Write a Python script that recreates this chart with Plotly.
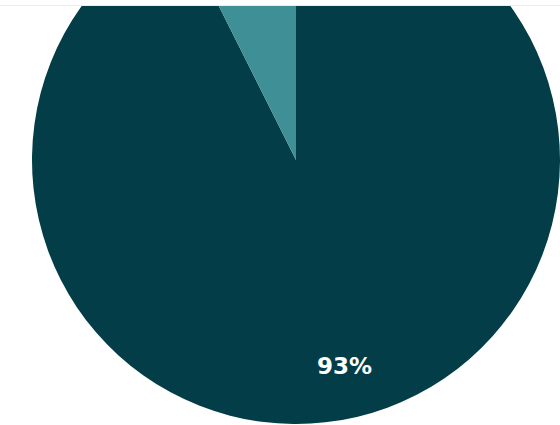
import math
import plotly.graph_objects as go

# ---- data ----
labels = ["Main", "Other"]
values = [92.6, 7.4]
colors = ["#033d47", "#3f8f96"]

W, H = 560, 528          # figure size (larger than the window; page is offset)
OFFSET_Y = 104           # px the figure is shifted up so the pie is cropped like the reference
DOM_X0 = 32 / W          # pie domain left edge
LABEL_R = 0.80           # label distance as a fraction of the radius

fig = go.Figure(
    go.Pie(
        labels=labels,
        values=values,
        sort=False,
        direction="clockwise",
        rotation=0,
        marker=dict(colors=colors, line=dict(width=0)),
        textinfo="none",
        hoverinfo="skip",
        domain=dict(x=[DOM_X0, 1], y=[0, 1]),
        showlegend=False,
    )
)

# label for the main slice, placed along its bisector (computed from the values)
total = sum(values)
radius_px = min((1 - DOM_X0) * W, H) / 2
cx_px = DOM_X0 * W + (1 - DOM_X0) * W / 2
cy_px = H / 2
start = 0.0
annotations = []
for lab, v in zip(labels, values):
    frac = v / total
    mid = (start + frac / 2) * 2 * math.pi   # clockwise from 12 o'clock
    start += frac
    if lab != "Main":
        continue
    px = cx_px + LABEL_R * radius_px * math.sin(mid)
    py = cy_px - LABEL_R * radius_px * math.cos(mid)
    annotations.append(dict(
        x=px / W, y=1 - py / H, xref="paper", yref="paper",
        text=f"<b>{round(frac * 100)}%</b>", showarrow=False,
        xanchor="center", yanchor="middle",
        font=dict(family="DejaVu Sans, sans-serif", size=23, color="white"),
    ))

top_edge = 1 - (OFFSET_Y + 6) / H
line_y = 1 - (OFFSET_Y + 5.5) / H
fig.update_layout(
    width=W,
    height=H,
    margin=dict(l=0, r=0, t=0, b=0),
    paper_bgcolor="white",
    plot_bgcolor="white",
    annotations=annotations,
    shapes=[
        dict(type="rect", xref="paper", yref="paper", x0=0, x1=1,
             y0=top_edge, y1=1, fillcolor="white", line=dict(width=0),
             layer="above"),
        dict(type="line", xref="paper", yref="paper", x0=0, x1=1,
             y0=line_y, y1=line_y, line=dict(color="#ededed", width=1),
             layer="above"),
    ],
)

post = (
    "document.documentElement.style.overflow='hidden';"
    "document.body.style.margin='0';"
    "var d=document.getElementById('{plot_id}');"
    "d.style.position='absolute';d.style.left='0px';"
    "d.style.top='-%dpx';" % OFFSET_Y
)

fig.write_html("out.html", config={"displayModeBar": False}, post_script=post)
